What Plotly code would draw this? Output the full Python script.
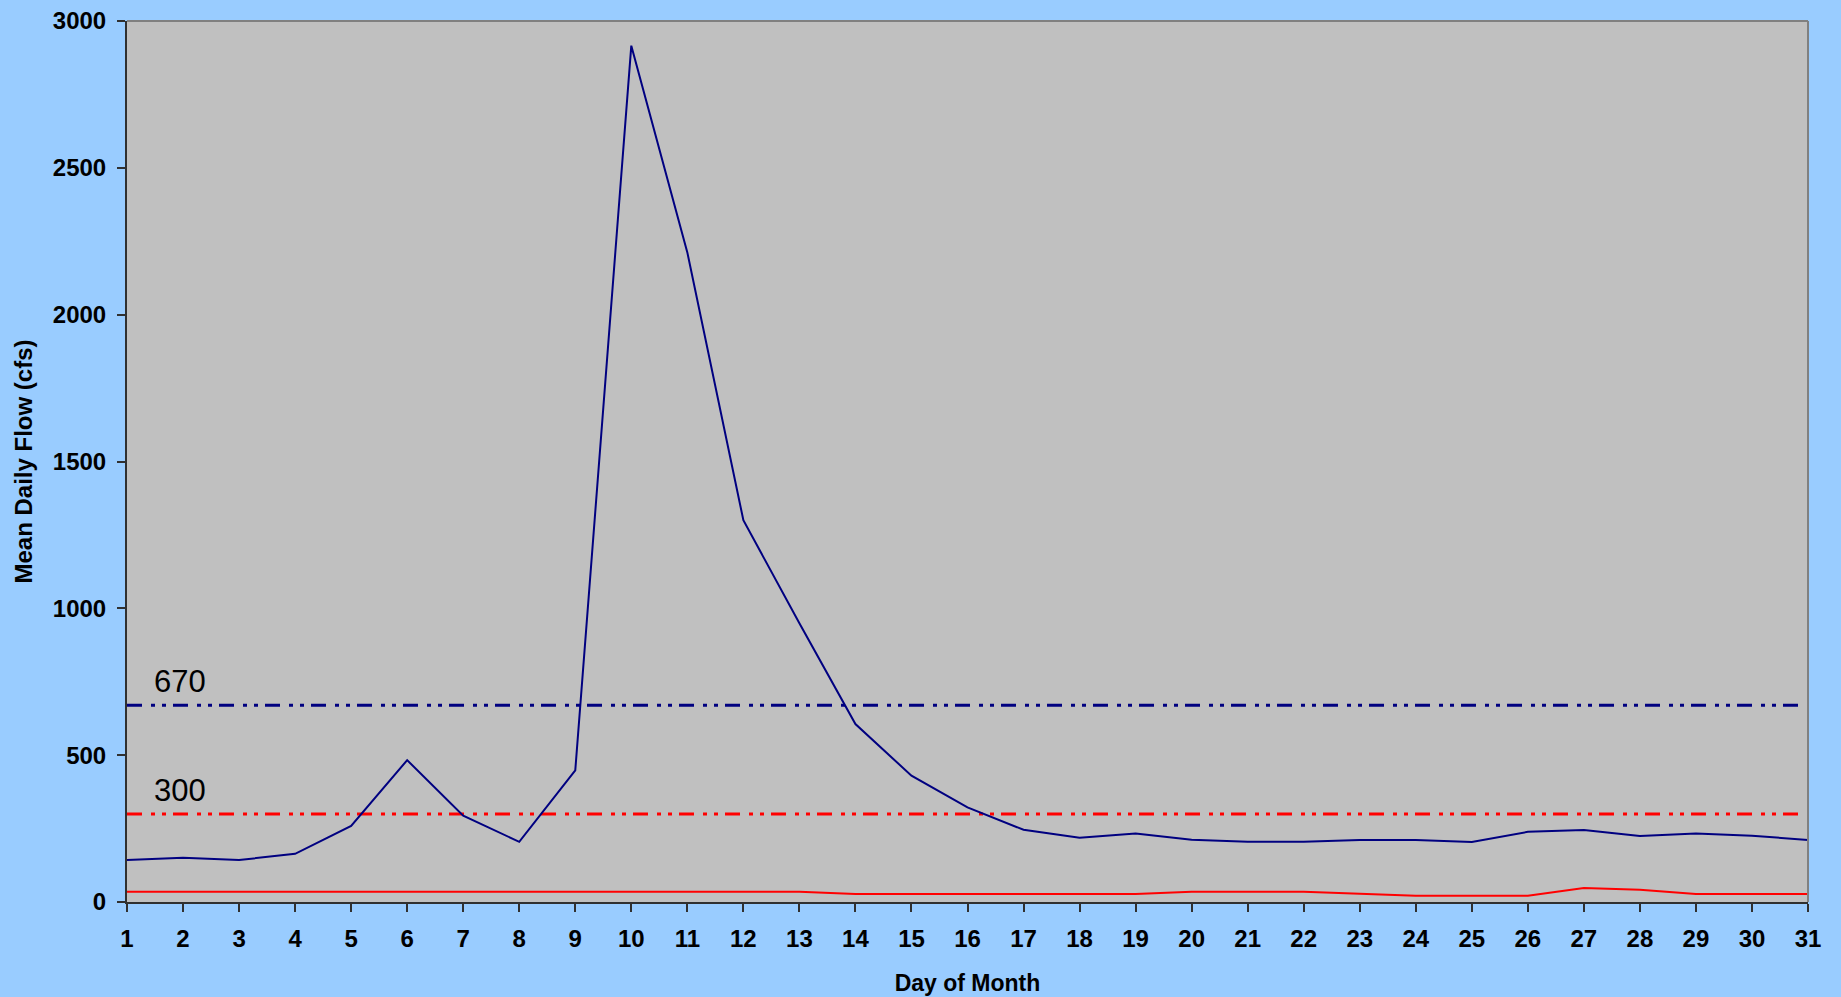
import plotly.graph_objects as go

days = list(range(1, 32))
mean_flow = [143, 151, 143, 164, 259, 483, 294, 205, 448, 2916,
             2212, 1300, 949, 606, 430, 322, 246, 219, 233, 212,
             205, 205, 211, 211, 204, 239, 245, 225, 233, 226, 211]
low_flow = [35, 35, 35, 35, 35, 35, 35, 35, 35, 35,
            35, 35, 35, 27, 27, 27, 27, 27, 27, 35,
            35, 35, 28, 21, 21, 21, 48, 42, 27, 27, 27]
threshold_high = 670
threshold_low = 300
x_ticks = list(range(1, 32))
y_ticks = [0, 500, 1000, 1500, 2000, 2500, 3000]

NAVY = "#000080"
RED = "#FF0000"
FONT = "Liberation Sans, Arial, sans-serif"
DASH = "15px,9px,4px,7px,4px,7px"

fig = go.Figure()
fig.add_trace(go.Scatter(x=days, y=[threshold_high] * len(days), mode="lines",
                         line=dict(color=NAVY, width=3, dash=DASH), hoverinfo="skip"))
fig.add_trace(go.Scatter(x=days, y=[threshold_low] * len(days), mode="lines",
                         line=dict(color=RED, width=3, dash=DASH), hoverinfo="skip"))
fig.add_trace(go.Scatter(x=days, y=low_flow, mode="lines",
                         line=dict(color=RED, width=2)))
fig.add_trace(go.Scatter(x=days, y=mean_flow, mode="lines",
                         line=dict(color=NAVY, width=2)))

fig.add_annotation(x=1.45, y=threshold_high, text=str(threshold_high), showarrow=False,
                   xanchor="left", yanchor="bottom", yshift=4,
                   font=dict(family=FONT, size=31, color="#000000"))
fig.add_annotation(x=1.45, y=threshold_low, text=str(threshold_low), showarrow=False,
                   xanchor="left", yanchor="bottom", yshift=4,
                   font=dict(family=FONT, size=31, color="#000000"))

# top / right border of plot area
fig.add_shape(type="line", xref="paper", yref="paper", x0=0, x1=1, y0=1, y1=1,
              line=dict(color="#808080", width=2))
fig.add_shape(type="line", xref="paper", yref="paper", x0=1, x1=1, y0=0, y1=1,
              line=dict(color="#808080", width=2))

fig.update_layout(
    width=1841, height=997,
    paper_bgcolor="#99CCFF", plot_bgcolor="#C0C0C0",
    margin=dict(l=127, r=33, t=21, b=95),
    showlegend=False,
    font=dict(family=FONT, color="#000000"),
    xaxis=dict(
        range=[1, 31], tickmode="array", tickvals=x_ticks,
        ticktext=[str(v) for v in x_ticks],
        showgrid=False, zeroline=False,
        showline=True, linecolor="#303030", linewidth=2,
        ticks="outside", ticklen=8, tickwidth=1.5, tickcolor="#303030",
        tickfont=dict(family=FONT, size=24, color="#000000", weight="bold"),
        ticklabelstandoff=6,
        title=dict(text="<b>Day of Month</b>", font=dict(family=FONT, size=23), standoff=24),
        automargin=False,
    ),
    yaxis=dict(
        range=[0, 3000], tickmode="array", tickvals=y_ticks,
        ticktext=[str(v) for v in y_ticks],
        showgrid=False, zeroline=False,
        showline=True, linecolor="#303030", linewidth=2,
        ticks="outside", ticklen=8, tickwidth=1.5, tickcolor="#303030",
        tickfont=dict(family=FONT, size=24, color="#000000", weight="bold"),
        ticklabelstandoff=6,
        title=dict(text="<b>Mean Daily Flow (cfs)</b>", font=dict(family=FONT, size=24), standoff=13),
        automargin=False,
    ),
)

fig.write_html("out.html", config={"displayModeBar": False},
               post_script="document.body.style.margin='0';"
                           "document.body.style.background='#99CCFF';")
